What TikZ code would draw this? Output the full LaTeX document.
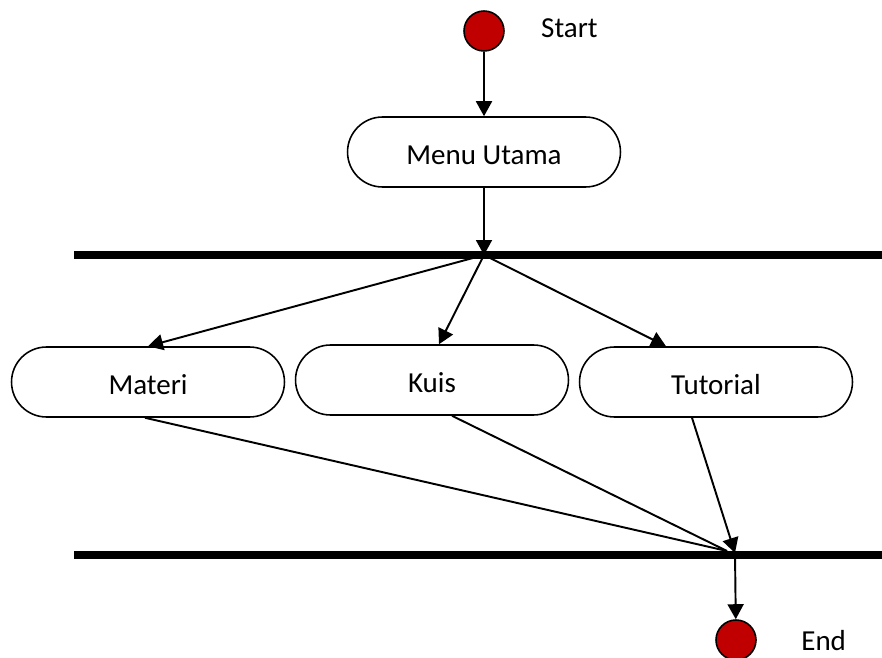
\documentclass[tikz,border=0pt]{standalone}
\usepackage{fontspec}
\setmainfont{Carlito}
\usepackage{tikz}
\usetikzlibrary{arrows.meta,positioning,calc}
\definecolor{dotred}{HTML}{C00000}
\tikzset{
  every picture/.append style={font=\fontsize{16.5}{19}\selectfont},
  dot/.style      = {circle, draw=black, line width=0.9pt, fill=dotred,
                     minimum size=0.8cm, inner sep=0pt},
  act/.style      = {rectangle, draw=black, line width=0.9pt, fill=white,
                     rounded corners=0.7cm, minimum width=5.46cm,
                     minimum height=1.4cm, text height=0.62cm, text depth=0.1cm},
  bar/.style      = {draw=black, line width=0.16cm},
  arr/.style      = {-{Triangle[length=0.3cm,width=0.32cm]}, line width=1.1pt},
  ln/.style       = {line width=1.1pt},
}

\begin{document}
\begin{tikzpicture}[x=0.02cm,y=-0.02cm]
  \useasboundingbox (0,0) rectangle (882,658);

  \node[dot] (start) at (484,31) {};
  \node[anchor=west] (startlab) at (535,28) {Start};
  \node[act] (menu) at (484,152) {Menu Utama};

  % fork
  \coordinate (forkL) at (74,255);
  \coordinate (forkR) at (882,255);
  \coordinate (fork) at (484,255);
  \draw[bar] (forkL) -- (forkR);

  \node[act] (materi)   at (148,382) {Materi};
  \node[act] (kuis)     at (432,380) {Kuis};
  \node[act] (tutorial) at (716,382) {Tutorial};

  % join
  \coordinate (joinL) at (74,555);
  \coordinate (joinR) at (882,555);
  \coordinate (join) at (735,553);
  \draw[bar] (joinL) -- (joinR);

  \node[dot] (end) at (736,640) {};
  \node[anchor=west, inner sep=0pt] (endlab) at (801,641) {End};

  \draw[arr] (start) -- (menu);
  \draw[arr] (menu) -- (fork);
  \draw[arr] (fork) -- (materi.north);
  \draw[arr] (fork) -- ($(kuis.north)+(7,0)$);
  \draw[arr] (fork) -- ($(tutorial.north)+(-50,0)$);

  \draw[ln] ($(materi.south)+(-3,0)$) -- ($(join)+(-8,-2)$);
  \draw[ln] ($(kuis.south)+(20,0)$) -- ($(join)+(-8,-2)$);
  \draw[arr] ($(tutorial.south)+(-24,0)$) -- (join);
  \draw[arr] (join) -- (end);
\end{tikzpicture}
\end{document}
